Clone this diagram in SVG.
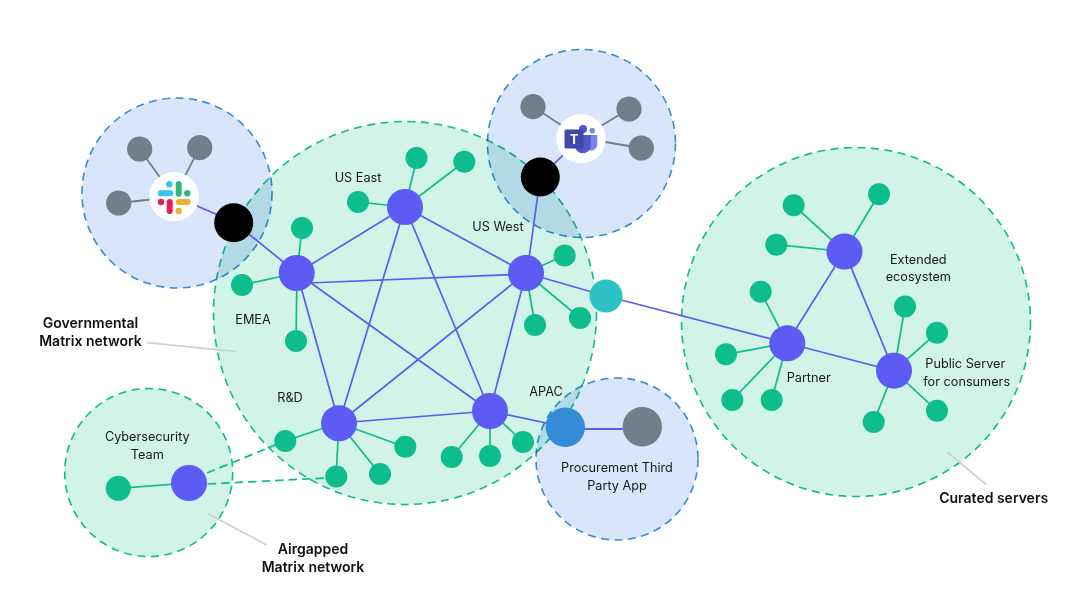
<svg xmlns="http://www.w3.org/2000/svg" width="1080" height="610" viewBox="0 0 1080 610">
<style>
text{font-family:Inter,"Liberation Sans",sans-serif;font-size:12.7px;fill:#17191c;text-anchor:middle}
.b{font-weight:600;font-size:14px;fill:#0e1013}
.zg{fill:#d1f3e8;stroke:#0dbd8b;stroke-width:1.6;stroke-dasharray:8 5.500;mix-blend-mode:multiply}
.zb{fill:#d8e5fb;stroke:#368bd6;stroke-width:1.6;stroke-dasharray:8 5.500;mix-blend-mode:multiply}
.p{fill:#5c5cf5}.g{fill:#0dbd8b}.k{fill:#000}.y{fill:#737d8c}.w{fill:#fff}
.lp{stroke:#5c5cf5;stroke-width:1.7;fill:none}
.lg{stroke:#0dbd8b;stroke-width:1.7;fill:none}
.ly{stroke:#737d8c;stroke-width:1.8;fill:none}
.ld{stroke:#0dbd8b;stroke-width:1.7;stroke-dasharray:8.500 5;fill:none}
.lc{stroke:#c8d4da;stroke-width:1.8;fill:none}
</style>
<g id="zones" style="isolation:isolate">
<circle id="zone-gov" class="zg" cx="405" cy="313" r="191.500"/>
<circle id="zone-curated" class="zg" cx="856" cy="322" r="174.500"/>
<circle id="zone-cyber" class="zg" cx="148.700" cy="472.500" r="84"/>
<circle id="zone-slack" class="zb" cx="177" cy="193" r="95"/>
<circle id="zone-teams" class="zb" cx="581.500" cy="143.500" r="94"/>
<circle id="zone-procurement" class="zb" cx="617" cy="459" r="81"/>
</g>
<g id="connectors">
<path class="lc" d="M147.300 342.700L236.700 351.700M207.300 513.300L266.700 545M947.700 452.300L985.700 484.300"/>
<path class="lg" d="M405 207L417 158M405 207L464 162M405 207L358 202M297 273L302 228M297 273L242 285M297 273L296 341M526 273L565 255M526 273L535 325M526 273L580 318M339 423L285 441M339 423L405 447M339 423L380 474M339 423L336 476M490 411L452 457M490 411L490 456M490 411L523 442M844.500 251.500L793.700 205.300M844.500 251.500L879 194.300M844.500 251.500L776.300 244.700M787 343L760.700 291.700M787 343L726 354.300M787 343L732.300 400M787 343L771.700 400M894 371L905 306.500M894 371L937 332.700M894 371L937 410.700M894 371L873.700 422M118.300 488.300L189 483"/>
<path class="ld" d="M207 473L285 441M207.700 484L336 477.500"/>
<path class="lp" d="M405 207L297 273M405 207L526 273M405 207L339 423M405 207L490 411M297 283.500L526 274M297 273L339 423M297 273L490 411M526 273L339 423M526 273L490 411M339 423L490 411M490 411L565 427M526 273L606 296L787 343M844.500 251.500L787 343M787 343L894 371M297 273L234 222L174 196M527 273L540.300 177L581 138"/>
<path class="lp" style="stroke-width:2" d="M565 429H642"/>
<path class="ly" d="M139.700 149L174 197M199.700 147.700L174 197M118.700 203L174 197M533 106.700L581 138M629 109L581 138M641.300 148L581 138"/>
<path class="lp" d="M844.500 251.500L894 371"/>
</g>
<g id="node-us-east"><circle class="p" cx="405" cy="207" r="18"/><circle class="g" cx="416.500" cy="158" r="11"/><circle class="g" cx="464.300" cy="161.700" r="11"/><circle class="g" cx="358" cy="202" r="11"/><text x="358" y="181.500">US East</text></g>
<g id="node-us-west"><circle class="p" cx="526" cy="273" r="18"/><circle class="g" cx="564.700" cy="255.500" r="11"/><circle class="g" cx="535" cy="325" r="11"/><circle class="g" cx="580" cy="318" r="11"/><text x="498" y="231">US West</text></g>
<g id="node-emea"><circle class="p" cx="296.700" cy="273" r="18"/><circle class="g" cx="302" cy="228" r="11"/><circle class="g" cx="242" cy="285" r="11"/><circle class="g" cx="296" cy="341" r="11"/><text x="253" y="323.500">EMEA</text></g>
<g id="node-rd"><circle class="p" cx="339" cy="423.300" r="18"/><circle class="g" cx="285.300" cy="441" r="11"/><circle class="g" cx="405.300" cy="446.700" r="11"/><circle class="g" cx="380" cy="474" r="11"/><circle class="g" cx="336.300" cy="476.500" r="11"/><text x="290" y="401.500">R&amp;D</text></g>
<g id="node-apac"><circle class="p" cx="490" cy="411" r="18"/><circle class="g" cx="451.700" cy="457" r="11"/><circle class="g" cx="490" cy="456" r="11"/><circle class="g" cx="523" cy="442" r="11"/><text x="546" y="396">APAC</text></g>
<g id="node-bridge"><circle cx="606" cy="296" r="16.500" fill="#2dc2c5"/></g>
<g id="node-extended"><circle class="p" cx="844.500" cy="251.500" r="18"/><circle class="g" cx="793.700" cy="205.300" r="11"/><circle class="g" cx="879" cy="194.300" r="11"/><circle class="g" cx="776.300" cy="244.700" r="11"/><text x="918.300" y="263.500">Extended</text><text x="918.300" y="281">ecosystem</text></g>
<g id="node-partner"><circle class="p" cx="787.300" cy="343.300" r="18"/><circle class="g" cx="760.700" cy="291.700" r="11"/><circle class="g" cx="726" cy="354.300" r="11"/><circle class="g" cx="732.300" cy="400" r="11"/><circle class="g" cx="771.700" cy="400" r="11"/><text x="808.700" y="382">Partner</text></g>
<g id="node-public"><circle class="p" cx="894" cy="370.700" r="18"/><circle class="g" cx="905" cy="306.500" r="11"/><circle class="g" cx="937" cy="332.700" r="11"/><circle class="g" cx="937" cy="410.700" r="11"/><circle class="g" cx="873.700" cy="422" r="11"/><text x="965.300" y="368">Public Server</text><text x="966.700" y="385.500">for consumers</text></g>
<g id="node-cyber"><circle class="g" cx="118.300" cy="488.300" r="12.500"/><circle class="p" cx="189" cy="483" r="18"/><text x="147.300" y="441">Cybersecurity</text><text x="147.300" y="458.500">Team</text></g>
<g id="node-procurement"><circle cx="565.300" cy="427.300" r="19.700" fill="#368bd6"/><circle class="y" cx="642.300" cy="426.700" r="19.700"/><text x="617" y="472">Procurement Third</text><text x="617" y="489.500">Party App</text></g>
<g id="node-slack-bridge"><circle class="k" cx="233.700" cy="222.700" r="19.500"/></g>
<g id="node-teams-bridge"><circle class="k" cx="540.300" cy="177" r="19.500"/></g>
<g id="node-slack">
<circle class="y" cx="139.700" cy="149" r="12.600"/><circle class="y" cx="199.700" cy="147.700" r="12.600"/><circle class="y" cx="118.700" cy="203" r="12.600"/>
<circle class="w" cx="174" cy="196.700" r="24.700"/>
<rect x="175.700" y="181" width="6" height="15.700" rx="3" fill="#2eb67d"/><circle cx="187.300" cy="193.300" r="3.200" fill="#2eb67d"/>
<rect x="157.700" y="190.300" width="15.700" height="6" rx="3" fill="#36c5f0"/><circle cx="169.300" cy="184.300" r="3.200" fill="#36c5f0"/>
<rect x="166.700" y="199" width="6" height="15" rx="3" fill="#e01e5a"/><circle cx="161" cy="202" r="3.200" fill="#e01e5a"/>
<rect x="175.700" y="199" width="15" height="6" rx="3" fill="#ecb22e"/><circle cx="178.700" cy="211" r="3.200" fill="#ecb22e"/>
</g>
<g id="node-teams">
<circle class="y" cx="533" cy="106.700" r="12.600"/><circle class="y" cx="629" cy="109" r="12.600"/><circle class="y" cx="641.300" cy="148" r="12.600"/>
<circle class="w" cx="581" cy="138.700" r="24.700"/>
<circle cx="592.300" cy="130.700" r="2.700" fill="#7b83eb"/><path d="M589 135H597.300V144A6 6 0 0 1 589 150Z" fill="#7b83eb"/>
<circle cx="583" cy="129" r="4" fill="#5059c9"/><path d="M575 135H590.700V145.500A7.800 7.800 0 0 1 575 145.500Z" fill="#5059c9"/>
<rect x="564.500" y="129.500" width="19" height="19" rx="1.500" fill="#3f4aa8"/><text x="574" y="144" style="font-size:13px;font-weight:700;fill:#fff">T</text>
</g>
<g id="labels">
<text class="b" x="90.500" y="328">Governmental</text><text class="b" x="90.500" y="345.500">Matrix network</text>
<text class="b" x="313" y="554">Airgapped</text><text class="b" x="313" y="571.500">Matrix network</text>
<text class="b" x="993.700" y="503">Curated servers</text>
</g>
</svg>
